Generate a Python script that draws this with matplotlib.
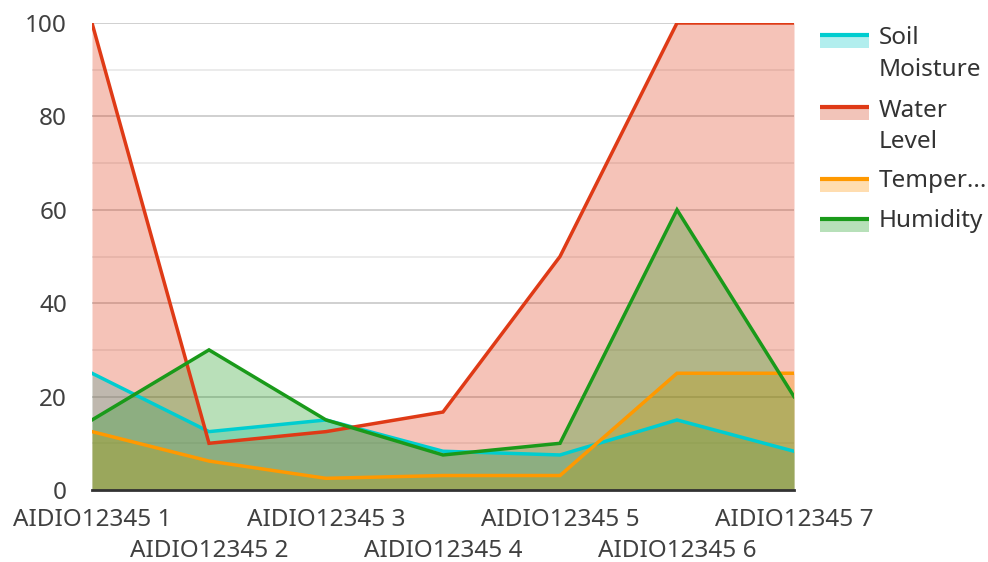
import matplotlib
matplotlib.use("Agg")
import matplotlib.pyplot as plt
from matplotlib.patches import Rectangle
from matplotlib.lines import Line2D
from matplotlib.transforms import blended_transform_factory, offset_copy

plt.rcParams['font.family'] = ['Noto Sans', 'DejaVu Sans']

categories = ["AIDIO12345 1", "AIDIO12345 2", "AIDIO12345 3", "AIDIO12345 4",
              "AIDIO12345 5", "AIDIO12345 6", "AIDIO12345 7"]
soil_moisture = [25, 12.5, 15, 8.3, 7.5, 15, 8.3]
water_level = [100, 10, 12.5, 16.7, 50, 100, 100]
temperature = [12.5, 6.2, 2.5, 3.1, 3.1, 25, 25]
humidity = [15, 30, 15, 7.5, 10, 60, 20]

series_names = [["Soil", "Moisture"], ["Water", "Level"], ["Temper..."], ["Humidity"]]
series_values = [soil_moisture, water_level, temperature, humidity]
line_colors = ["#00CDD0", "#DF3A16", "#FF9900", "#1A9A1A"]
fill_colors = ["#B2EEEE", "#F2C4B9", "#FFDDB0", "#B7E0B9"]

W, H = 988, 562
fig = plt.figure(figsize=(W / 100, H / 100), dpi=100)
ax = fig.add_axes([92/W, 72/H, (794-92)/W, (490-23)/H])

x = list(range(len(categories)))
for vals, lc in zip(series_values, line_colors):
    ax.fill_between(x, 0, vals, color=lc, alpha=0.3, linewidth=0, zorder=2)
for vals, lc in zip(series_values, line_colors):
    ax.plot(x, vals, color=lc, linewidth=2.5, zorder=3, solid_joinstyle='miter')

ax.set_xlim(0, len(categories) - 1)
ax.set_ylim(0, 100)
ax.set_yticks([0, 20, 40, 60, 80, 100])
ax.set_yticks([10, 30, 50, 70, 90], minor=True)
ax.grid(axis='y', which='major', color='#C8C8C8', linewidth=1.2, zorder=1)
ax.grid(axis='y', which='minor', color='#E8E8E8', linewidth=1.2, zorder=1)
ax.set_axisbelow(True)
for s in ['top', 'right', 'left']:
    ax.spines[s].set_visible(False)
ax.spines['bottom'].set_color('#333333')
ax.spines['bottom'].set_linewidth(2)
ax.spines['bottom'].set_zorder(5)

FS = 17.5
ax.set_xticks(x)
ax.set_xticklabels([])
ax.tick_params(axis='both', which='both', length=0, labelsize=FS, labelcolor='#404040')
ax.tick_params(axis='y', pad=18)

# staggered category labels (baselines below the axis, in pixels)
base = blended_transform_factory(ax.transData, ax.transAxes)
for i, c in enumerate(categories):
    dy = -36 if i % 2 == 0 else -67
    tr = offset_copy(base, fig=fig, x=0, y=dy * 72 / 100, units='points')
    ax.text(i, 0, c, transform=tr, ha='center', va='baseline', fontsize=FS,
            color='#404040', clip_on=False)

# legend drawn in figure pixel coordinates
entry_line_y = [35, 107, 179, 219]
entry_baselines = [[44, 76], [117, 148], [187], [227]]
for names, ly, bls, lc, fc in zip(series_names, entry_line_y, entry_baselines, line_colors, fill_colors):
    fig.add_artist(Rectangle((820/W, 1 - (ly + 13)/H), 49/W, 13/H,
                             facecolor=fc, edgecolor='none', transform=fig.transFigure))
    fig.add_artist(Line2D([820/W, 869/W], [1 - ly/H, 1 - ly/H], color=lc, linewidth=3,
                          solid_capstyle='butt', transform=fig.transFigure))
    for name, bl in zip(names, bls):
        fig.text(879/W, 1 - bl/H, name, fontsize=FS, color='#333333',
                 ha='left', va='baseline')

fig.savefig("out.png", dpi=100)
